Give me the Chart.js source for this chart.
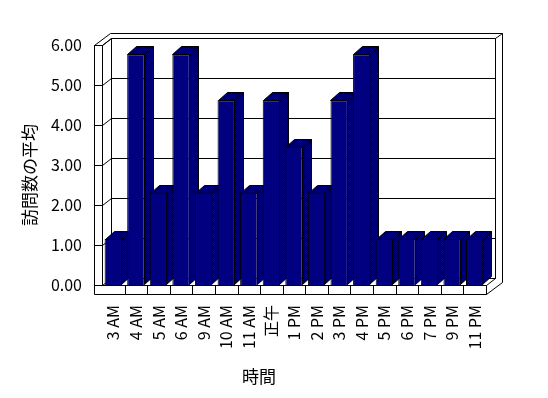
<!DOCTYPE html>
<html>
<head>
<meta charset="utf-8">
<script src="https://cdn.jsdelivr.net/npm/chart.js@4"></script>
<style>
  html, body { margin: 0; padding: 0; background: #fff; }
  canvas { display: block; }
</style>
</head>
<body>
<canvas id="chart" width="548" height="398"></canvas>
<script>
const categories = ['3 AM', '4 AM', '5 AM', '6 AM', '9 AM', '10 AM', '11 AM', '正午', '1 PM', '2 PM', '3 PM', '4 PM', '5 PM', '6 PM', '7 PM', '9 PM', '11 PM'];
const visits = [1.15, 5.77, 2.31, 5.77, 2.31, 4.62, 2.31, 4.62, 3.46, 2.31, 4.62, 5.77, 1.15, 1.15, 1.15, 1.15, 1.15];
const yTickLabels = ['0.00', '1.00', '2.00', '3.00', '4.00', '5.00', '6.00'];
const yTitle = '訪問数の平均';
const xTitle = '時間';

const FONT = '"Noto Sans CJK JP", sans-serif';
const DX = 9, DY = -7;     // depth of the floor / walls
const BDX = 9, BDY = -8;   // depth of each column

// dark checker used for the side and top faces of the columns
function ditherPattern(ctx) {
    const c = document.createElement('canvas');
    c.width = 2; c.height = 2;
    const p = c.getContext('2d');
    p.fillStyle = '#000080';
    p.fillRect(0, 0, 2, 2);
    p.fillStyle = '#000';
    p.fillRect(1, 0, 1, 1);
    p.fillRect(0, 1, 1, 1);
    return ctx.createPattern(c, 'repeat');
}

function line(ctx, x1, y1, x2, y2) {
    ctx.beginPath();
    ctx.moveTo(x1, y1);
    ctx.lineTo(x2, y2);
    ctx.stroke();
}

function poly(ctx, pts, fill) {
    ctx.beginPath();
    ctx.moveTo(pts[0][0], pts[0][1]);
    for (let i = 1; i < pts.length; i++) ctx.lineTo(pts[i][0], pts[i][1]);
    ctx.closePath();
    if (fill) { ctx.fillStyle = fill; ctx.fill(); }
    ctx.stroke();
}

// Walls, floor and the 3D faces of the columns
const box3d = {
    id: 'box3d',
    beforeDatasetsDraw(chart) {
        const { ctx, chartArea: a, scales: { y } } = chart;
        const L = Math.round(a.left) + 0.5, R = Math.round(a.right) + 0.5;
        const T = Math.round(a.top) + 0.5, B = Math.round(a.bottom) + 0.5;
        ctx.save();
        ctx.strokeStyle = '#000';
        ctx.lineWidth = 1;

        // outer box
        line(ctx, L - 8, T, L, T);
        line(ctx, L - 8, T, L - 8, B + 9);
        line(ctx, L, T, L, B);
        line(ctx, L - 8, B + 9, R, B + 9);
        line(ctx, L, B, R, B);
        line(ctx, R, B, R, B + 9);
        line(ctx, L - 8, T, L + 8, T - 12);
        line(ctx, L + 8, T - 12, R + 16, T - 12);
        line(ctx, R + 16, T - 12, R + 16, B - 3);
        line(ctx, R, B + 9, R + 16, B - 3);
        line(ctx, R + DX, T + DY, R + 16, T - 12);

        // back wall
        line(ctx, L, T, L + DX, T + DY);
        line(ctx, L + DX, T + DY, R + DX, T + DY);
        line(ctx, L + DX, T + DY, L + DX, B + DY);
        line(ctx, R + DX, T + DY, R + DX, B + DY);
        line(ctx, L + DX, B + DY, R + DX, B + DY);
        line(ctx, R, B, R + DX, B + DY);

        // gridlines
        yTickLabels.forEach((t, i) => {
            const yy = Math.round(y.getPixelForValue(i)) + 0.5;
            line(ctx, L - 8, yy, L, yy);
            line(ctx, L, yy, L + DX, yy + DY);
            line(ctx, L + DX, yy + DY, R + DX, yy + DY);
        });

        // category separators on the floor edge
        const n = categories.length;
        for (let i = 1; i < n; i++) {
            const xx = Math.round(a.left + i * (a.right - a.left) / n) + 0.5;
            line(ctx, xx, B, xx, B + 9);
        }

        // side and top faces
        const pat = ditherPattern(ctx);
        chart.getDatasetMeta(0).data.forEach(bar => {
            const p = bar.getProps(['x', 'y', 'base', 'width'], true);
            const xl = Math.round(p.x - p.width / 2) + 0.5;
            const xr = Math.round(p.x + p.width / 2) - 0.5;
            const top = Math.round(p.y) + 0.5, base = Math.round(p.base) - 0.5;
            poly(ctx, [[xr, top], [xr + BDX, top + BDY], [xr + BDX, base + BDY], [xr, base]], pat);
            poly(ctx, [[xl, top], [xl + BDX, top + BDY], [xr + BDX, top + BDY], [xr, top]], pat);
        });
        ctx.restore();
    },
    afterDraw(chart) {
        const ctx = chart.ctx;
        ctx.save();
        ctx.fillStyle = '#000';
        ctx.font = '17px ' + FONT;
        ctx.textAlign = 'center';
        ctx.textBaseline = 'middle';
        ctx.fillText(xTitle, 259, 377);
        ctx.translate(30, 175);
        ctx.rotate(-Math.PI / 2);
        ctx.fillText(yTitle, 0, 0);
        ctx.restore();
    }
};

new Chart(document.getElementById('chart'), {
    type: 'bar',
    data: {
        labels: categories,
        datasets: [{
            data: visits,
            backgroundColor: '#000080',
            borderColor: '#000',
            borderWidth: 1,
            barPercentage: 0.77,
            categoryPercentage: 1
        }]
    },
    options: {
        responsive: false,
        animation: false,
        layout: { padding: { top: 45, right: 62, left: 0, bottom: 0 } },
        plugins: {
            legend: { display: false },
            tooltip: { enabled: false }
        },
        scales: {
            x: {
                grid: { display: false, drawTicks: false },
                border: { display: false },
                ticks: {
                    minRotation: 90,
                    maxRotation: 90,
                    autoSkip: false,
                    padding: 20,
                    color: '#000',
                    font: { family: FONT, size: 16 }
                },
                afterFit(s) { s.height = 113; }
            },
            y: {
                min: 0,
                max: 6,
                grid: { display: false, drawTicks: false },
                border: { display: false },
                ticks: {
                    stepSize: 1,
                    padding: 20,
                    color: '#000',
                    font: { family: FONT, size: 16 },
                    callback: (v, i) => yTickLabels[i]
                },
                afterFit(s) { s.width = 102; }
            }
        }
    },
    plugins: [box3d]
});
</script>
</body>
</html>
